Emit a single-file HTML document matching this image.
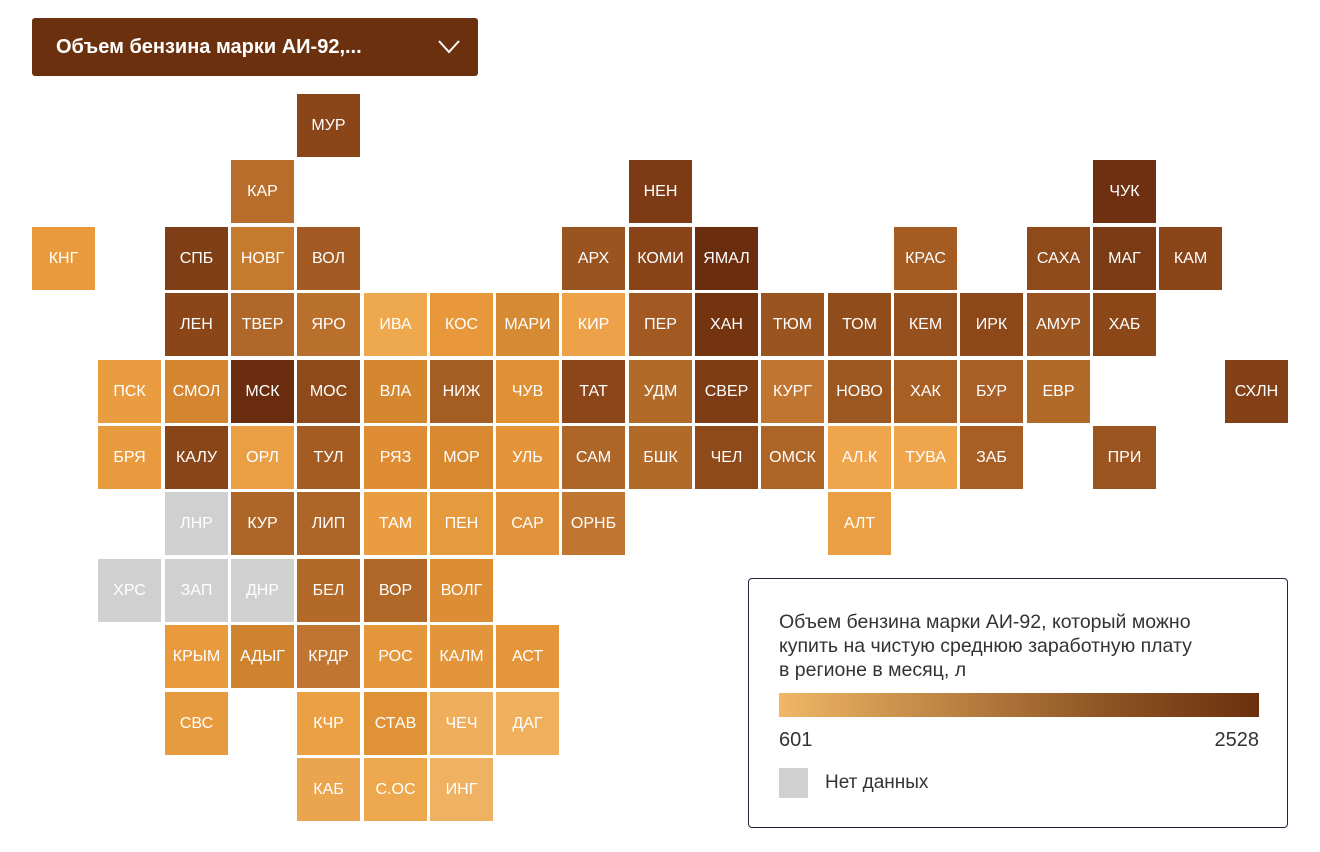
<!DOCTYPE html><html><head><meta charset="utf-8"><style>
body{margin:0;width:1320px;height:852px;background:#fff;position:relative;overflow:hidden;font-family:"Liberation Sans",sans-serif}
.c{position:absolute;width:63px;height:63px;color:#fff;font-size:16px;display:flex;align-items:center;justify-content:center}
.g{background:#d0d0d0}
#dd{position:absolute;left:32px;top:18px;width:446px;height:58px;background:#6b310f;border-radius:3px;color:#fff;font-size:20px;font-weight:bold;line-height:58px;text-indent:24px}
#lg{position:absolute;left:748px;top:578px;width:538px;height:248px;border:1.5px solid #1e2640;border-radius:4px;color:#333}
</style></head><body>
<div id="dd">Объем бензина марки АИ-92,...<svg style="position:absolute;left:406px;top:22px" width="22" height="14"><polyline points="1,1 11,12 21,1" fill="none" stroke="#fff" stroke-width="2"/></svg></div>
<div id="lg">
<div style="position:absolute;left:30px;top:31px;font-size:19.5px;line-height:24px">Объем бензина марки АИ-92, который можно<br>купить на чистую среднюю заработную плату<br>в регионе в месяц, л</div>
<div style="position:absolute;left:30px;top:114px;width:480px;height:24px;background:linear-gradient(90deg,#efb766,#c48a48 30%,#8a5222 70%,#6b310f)"></div>
<div style="position:absolute;left:30px;top:150px;font-size:20px">601</div>
<div style="position:absolute;right:28px;top:150px;font-size:20px">2528</div>
<div style="position:absolute;left:30px;top:189px;width:29px;height:30px;background:#d0d0d0"></div>
<div style="position:absolute;left:76px;top:193px;font-size:19px">Нет данных</div>
</div>
<div id="m"></div>
<script>
var d=[
[4,0,"МУР","#8a4519"],
[3,1,"КАР","#b86e2a"],[9,1,"НЕН","#7d3b15"],[16,1,"ЧУК","#6e3010"],
[0,2,"КНГ","#e89a3c"],[2,2,"СПБ","#7f3f16"],[3,2,"НОВГ","#c67a2e"],[4,2,"ВОЛ","#a25a22"],[8,2,"АРХ","#9a5420"],[9,2,"КОМИ","#884418"],[10,2,"ЯМАЛ","#6a2d0e"],[13,2,"КРАС","#a45c22"],[15,2,"САХА","#8e4a1a"],[16,2,"МАГ","#7a3a14"],[17,2,"КАМ","#8a4619"],
[2,3,"ЛЕН","#8a4619"],[3,3,"ТВЕР","#b0672a"],[4,3,"ЯРО","#b8702c"],[5,3,"ИВА","#eea94f"],[6,3,"КОС","#e8973a"],[7,3,"МАРИ","#d78a34"],[8,3,"КИР","#eda24a"],[9,3,"ПЕР","#a25a22"],[10,3,"ХАН","#73340f"],[11,3,"ТЮМ","#9a5420"],[12,3,"ТОМ","#904c1b"],[13,3,"КЕМ","#96501d"],[14,3,"ИРК","#8c4819"],[15,3,"АМУР","#9a5420"],[16,3,"ХАБ","#8c4719"],
[1,4,"ПСК","#e99c40"],[2,4,"СМОЛ","#d3852f"],[3,4,"МСК","#6a2c0e"],[4,4,"МОС","#8e4a1a"],[5,4,"ВЛА","#d58730"],[6,4,"НИЖ","#a45e23"],[7,4,"ЧУВ","#e09034"],[8,4,"ТАТ","#8c4619"],[9,4,"УДМ","#b26a29"],[10,4,"СВЕР","#7f3d15"],[11,4,"КУРГ","#c07630"],[12,4,"НОВО","#9c5620"],[13,4,"ХАК","#a85f24"],[14,4,"БУР","#a85e24"],[15,4,"ЕВР","#b26a29"],[18,4,"СХЛН","#833f16"],
[1,5,"БРЯ","#e89b3e"],[2,5,"КАЛУ","#884518"],[3,5,"ОРЛ","#eb9f44"],[4,5,"ТУЛ","#a45c22"],[5,5,"РЯЗ","#de8d34"],[6,5,"МОР","#d8882f"],[7,5,"УЛЬ","#e4953a"],[8,5,"САМ","#ae6628"],[9,5,"БШК","#b26a29"],[10,5,"ЧЕЛ","#8e4a1a"],[11,5,"ОМСК","#ad6527"],[12,5,"АЛ.К","#eea54c"],[13,5,"ТУВА","#eea54c"],[14,5,"ЗАБ","#a95f24"],[16,5,"ПРИ","#9c5520"],
[2,6,"ЛНР","g"],[3,6,"КУР","#ae6628"],[4,6,"ЛИП","#ae6628"],[5,6,"ТАМ","#e99c40"],[6,6,"ПЕН","#e69a3e"],[7,6,"САР","#e0923a"],[8,6,"ОРНБ","#c07630"],[12,6,"АЛТ","#eb9f44"],
[1,7,"ХРС","g"],[2,7,"ЗАП","g"],[3,7,"ДНР","g"],[4,7,"БЕЛ","#b36a28"],[5,7,"ВОР","#b06828"],[6,7,"ВОЛГ","#dd8d34"],
[2,8,"КРЫМ","#e89a3c"],[3,8,"АДЫГ","#d0832f"],[4,8,"КРДР","#c07630"],[5,8,"РОС","#e3963a"],[6,8,"КАЛМ","#e2953a"],[7,8,"АСТ","#e5963a"],
[2,9,"СВС","#e69b3e"],[4,9,"КЧР","#eba044"],[5,9,"СТАВ","#e09336"],[6,9,"ЧЕЧ","#efae5c"],[7,9,"ДАГ","#efaf5c"],
[4,10,"КАБ","#eba54e"],[5,10,"С.ОС","#eda84f"],[6,10,"ИНГ","#efb262"]];
var h="";d.forEach(function(e){var x=Math.round(32+e[0]*66.3),y=Math.round(94+e[1]*66.4);
h+='<div class="c'+(e[3]=="g"?' g':'')+'" style="left:'+x+'px;top:'+y+'px;'+(e[3]=="g"?'':'background:'+e[3])+'">'+e[2]+'</div>';});
document.getElementById("m").innerHTML=h;
</script></body></html>
